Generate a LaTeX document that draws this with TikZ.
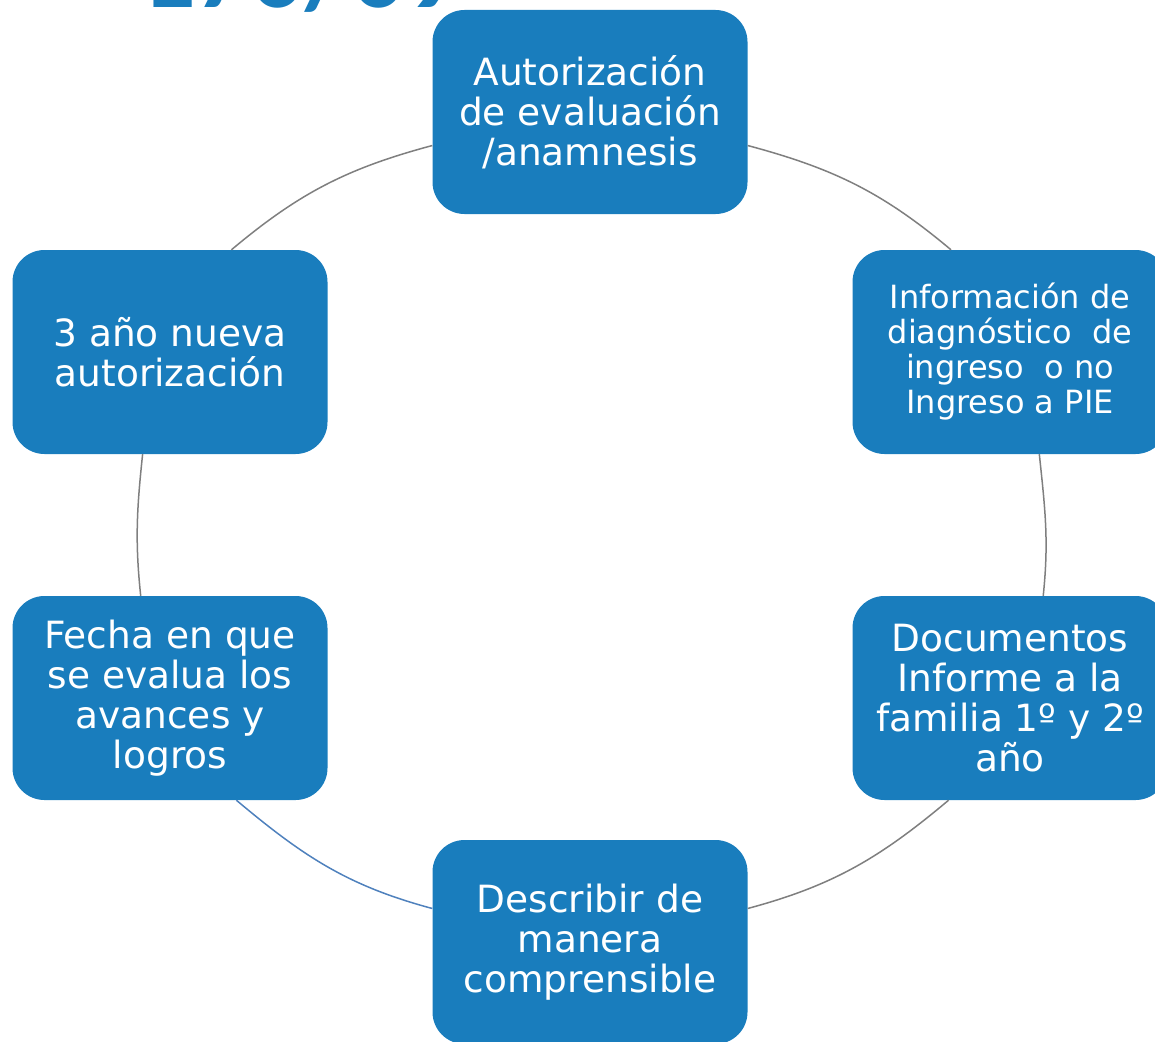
\documentclass[tikz,border=0pt]{standalone}
\usepackage{fontspec}
\setmainfont{DejaVu Sans}
\newfontfamily\titlefont{Carlito}
\definecolor{boxblue}{RGB}{25,125,189}
\definecolor{arcgray}{RGB}{127,127,127}
\definecolor{arcblue}{RGB}{79,129,189}
\begin{document}
\begin{tikzpicture}[x=1pt,y=1pt,
  stepbox/.style={draw=none, fill=boxblue, rounded corners=32pt, minimum width=315pt, minimum height=204pt, inner sep=0pt, text=white, align=center},
  bigtxt/.style={font=\fontsize{37.5}{40}\selectfont},
  smalltxt/.style={font=\fontsize{32}{35}\selectfont},
  arc/.style={draw=arcgray, line width=1.5pt},
  arcb/.style={draw=arcblue, line width=1.5pt}]
\useasboundingbox (0,0) rectangle (1155,-1041);
\clip (0,0) rectangle (1155,-1041);
\node[anchor=base west, inner sep=0pt, text=boxblue, font=\titlefont\bfseries\fontsize{108}{108}\selectfont] (title) at (141,-8) {170/09};
\node[stepbox, bigtxt] (top) at (590,-112) {Autorización\\de evaluación\\/anamnesis};
\node[stepbox, smalltxt] (ru) at (1010,-352) {Información de\\diagnóstico~ de\\ingreso~ o no\\Ingreso a PIE};
\node[stepbox, bigtxt] (rl) at (1010,-698) {Documentos\\Informe a la\\familia 1º y 2º\\año};
\node[stepbox, bigtxt] (bot) at (590,-942) {Describir de\\manera\\comprensible};
\node[stepbox, bigtxt] (ll) at (170,-698) {Fecha en que\\se evalua los\\avances y\\logros};
\node[stepbox, bigtxt] (lu) at (170,-352) {3 año nueva\\autorización};
\draw[arc] (top.-12) to[out=-15, in=140] (ru.120);
\draw[arc] (ru.-74) to[out=-84, in=84] (rl.72);
\draw[arc] (rl.-121) to[out=220, in=15] (bot.12);
\draw[arcb] (bot.168) to[out=165, in=-40] (ll.-57);
\draw[arc] (ll.106) to[out=96, in=-96] (lu.-105);
\draw[arc] (lu.59) to[out=40, in=195] (top.192);
\end{tikzpicture}
\end{document}
